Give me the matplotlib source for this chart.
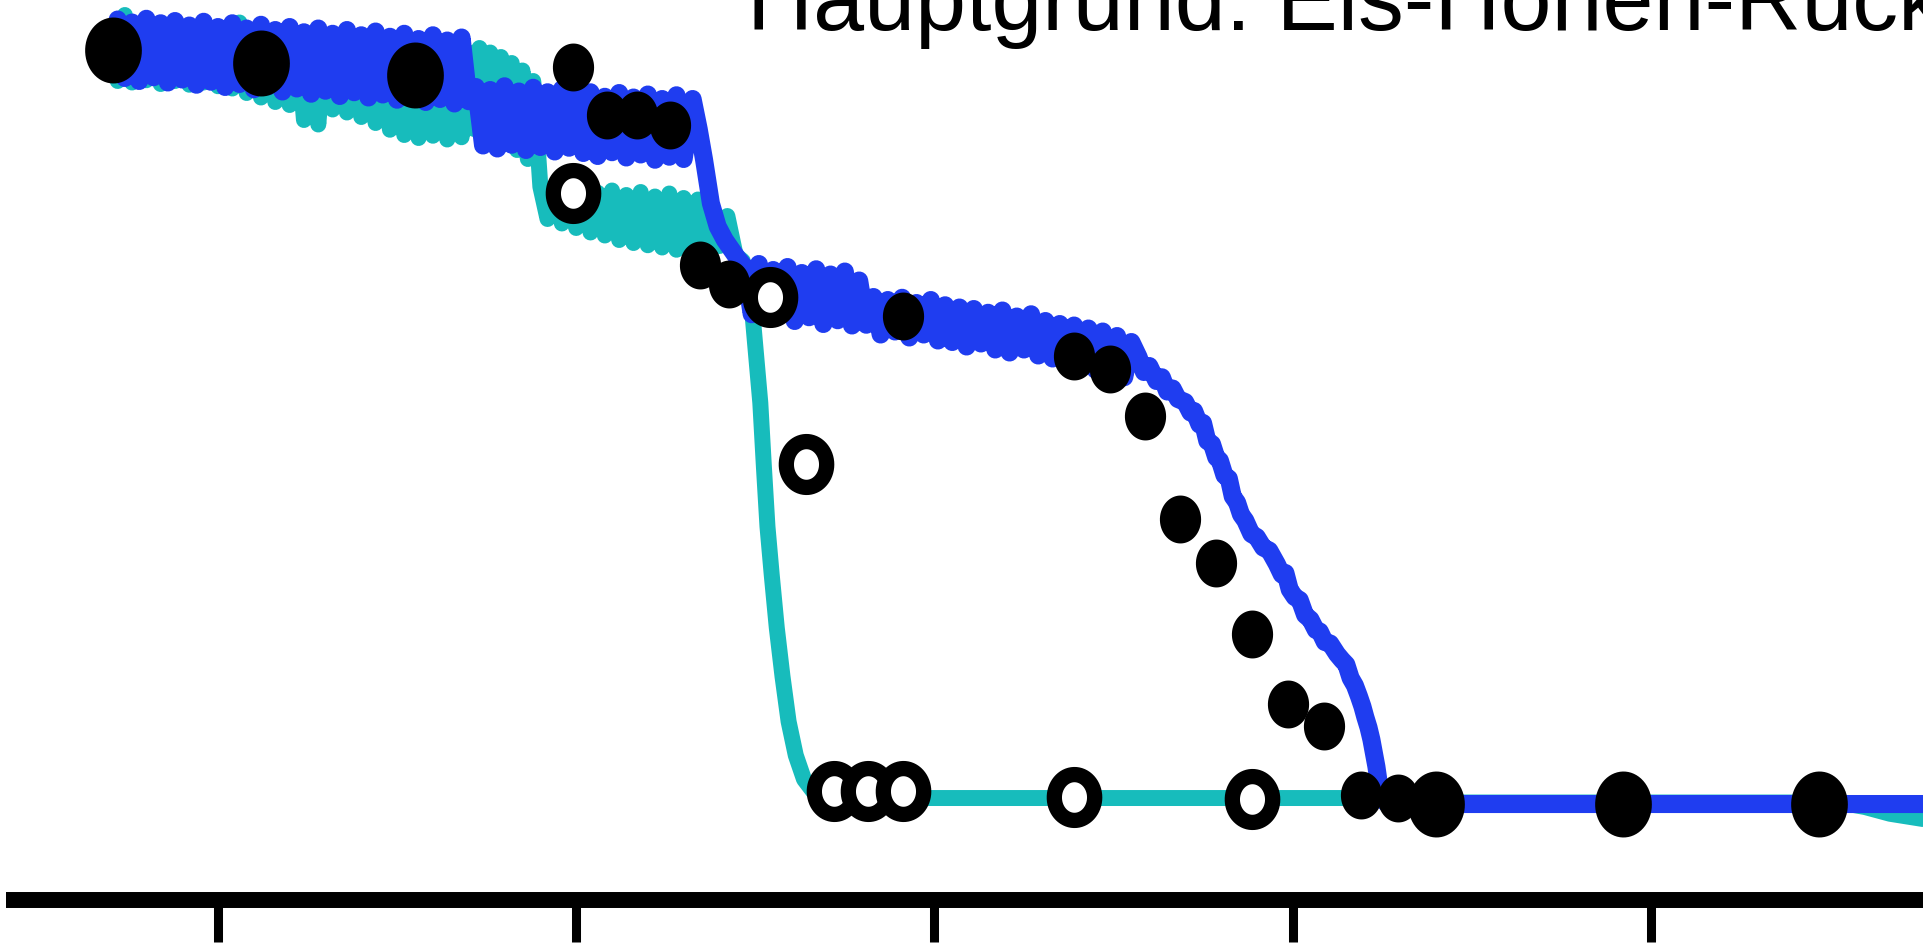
import numpy as np
import matplotlib
matplotlib.use("Agg")
import matplotlib.pyplot as plt
from matplotlib.path import Path


TITLE = "Hauptgrund: Eis-Höhen-Rückkopplung"

# x in arbitrary time units (ticks every 100), y in percent of initial ice
TICKS = [0, 100, 200, 300, 400]

# blue model run: a very noisy series, so the thick line fills a band
blue_x = [
    -30, -28, -26, -24, -22, -20, -18, -16, -14, -12, -10, -8, -6, -4, -2,
    0, 2, 4, 6, 8, 10, 12, 14, 16, 18, 20, 22, 24, 26, 28, 30, 32, 34, 36,
    38, 40, 42, 44, 46, 48, 50, 52, 54, 56, 58, 60, 62, 64, 66, 68, 70,
    72, 74, 76, 78, 80, 82, 84, 86, 88, 90, 92, 94, 96, 98, 100, 102, 104,
    106, 108, 110, 112, 114, 116, 118, 120, 122, 124, 126, 128, 130,
    132.5, 134.2, 135.7, 137.6, 139.5, 141.5, 145.0,
    147, 149, 151, 153, 155, 157, 159, 161, 163, 165, 167, 169, 171, 173,
    175, 177, 179, 181, 183, 185, 187, 189, 191, 193, 195, 197, 199, 201,
    203, 205, 207, 209, 211, 213, 215, 217, 219, 221, 223, 225, 227, 229,
    231, 233, 235, 237, 239, 241, 243, 245, 247, 249, 251, 253, 255,
    257.0, 258.5, 260.0, 262.0, 263.5, 265.0, 266.5, 268.0, 270.0, 271.5,
    272.5, 274.0, 275.0, 276.2, 277.5, 278.7, 279.7, 281.0, 282.2, 283.3,
    284.5, 285.6, 286.8, 288.5, 290.0, 291.8, 293.5, 295.6, 297.0, 298.0,
    299.2, 300.6, 302.0, 303.5, 305.0, 306.5, 307.6, 309.0, 310.5, 312.4,
    313.8, 315.0, 316.2, 317.4, 318.5, 319.5, 320.3, 321.2, 322.0, 322.7,
    323.4, 324.0, 324.8, 326.0, 327.5, 476.0,
]
blue_y = [
    100.5, 104.6, 96.8, 104.2, 96.4, 104.7, 96.9, 104.1, 96.2, 104.4, 96.6,
    103.8, 95.9, 104.3, 96.3, 103.6, 95.6, 104.1, 96.0, 103.4, 95.3, 103.9,
    95.7, 103.2, 95.0, 103.6, 95.4, 102.9, 94.7, 103.4, 95.1, 102.7, 94.4,
    103.2, 94.9, 102.5, 94.2, 103.0, 94.6, 102.3, 93.9, 102.7, 94.3, 102.0,
    93.6, 102.5, 94.0, 101.8, 93.4, 102.2, 93.7,
    95.6, 87.8, 95.2, 87.4, 95.7, 87.9, 95.0, 87.2, 95.5, 87.6, 94.9, 87.0,
    95.3, 87.5, 94.7, 86.8, 94.9, 86.4, 94.3, 86.9, 94.8, 86.2, 94.2, 86.6,
    94.6, 85.9, 94.0, 86.3, 94.5, 86.0,
    94.0, 90.0, 85.9, 80.1, 77.0, 75.2, 72.8,
    71.6, 65.3, 72.0, 64.8, 71.2, 65.2, 71.6, 64.4, 70.8, 64.9, 71.3, 64.0,
    70.6, 64.5, 71.0, 63.8, 69.8, 63.9, 67.6, 62.6, 67.2, 63.0, 67.5, 62.2,
    66.8, 62.6, 67.2, 61.8, 66.5, 61.6, 66.2, 61.0, 66.0, 61.4, 65.5, 60.6,
    65.8, 60.2, 65.0, 60.6, 65.3, 59.8, 64.4, 59.4, 64.0, 59.0, 63.8, 58.5,
    63.4, 57.9, 63.0, 57.4, 62.4, 56.9, 61.6,
    59.6, 57.6, 58.4, 56.4, 56.9, 55.0, 55.4, 54.0, 53.6, 52.2,
    52.4, 50.6, 50.8, 48.4, 48.0, 46.2, 45.8, 43.8, 43.4, 41.0,
    40.2, 38.6, 37.8, 36.0, 35.6, 34.2, 33.8, 32.0, 30.6, 30.8,
    28.6, 27.6, 27.2, 25.2, 24.6, 23.2, 23.0, 21.6, 21.4, 20.0,
    19.2, 18.6, 16.8, 15.8, 14.4, 13.0, 11.6, 10.2, 8.6, 6.8,
    5.0, 3.0, 1.2, 0.2, 0.0, 0.0,
]

# cyan model run
cyan_x = [
    -30, -28, -26, -24, -22, -20, -18, -16, -14, -12, -10, -8, -6, -4, -2,
    0, 2, 4, 6, 8, 10, 12, 14, 16, 18, 20, 22, 24, 26, 28, 30, 32, 34, 36,
    38, 40, 42, 44, 46, 48, 50, 52, 54, 56, 58, 60, 62, 64, 66, 68, 70,
    71.5, 73, 74.5, 76, 77.5, 79, 80.5, 82, 83.5, 85, 86.5, 88,
    90, 92, 94, 96, 98, 100, 102, 104, 106, 108, 110, 112, 114, 116, 118,
    120, 122, 124, 126, 128, 130, 132, 134, 136,
    138.0, 140.0, 142.2, 144.5, 146.5,
    149.0, 150.2, 151.4, 152.4, 153.4, 154.6, 156.0, 157.6, 159.3, 161.3,
    163.6, 166.3, 170.3, 320.0, 330.0, 452.8, 459.8, 466.8, 476.0,
]
cyan_y = [
    100.5, 96.4, 105.2, 96.2, 103.4, 96.5, 103.8, 96.0, 103.2, 96.4, 103.6,
    95.9, 103.0, 96.2, 103.4, 95.7, 103.0, 95.4, 104.2, 94.8, 102.6, 94.2,
    102.9, 93.6, 102.4, 93.2, 102.6, 91.2, 102.0, 90.6, 102.3, 92.6, 101.6,
    92.2, 101.9, 91.6, 101.2, 90.8, 101.5, 89.9, 100.8, 89.2, 101.0, 88.8,
    100.4, 89.1, 100.6, 88.6, 100.0, 88.9, 100.2,
    90.0, 100.8, 89.5, 100.2, 88.8, 99.6, 88.0, 98.8, 87.2, 97.8, 86.0, 96.4,
    82.3, 78.0, 82.0, 77.4, 81.8, 76.8, 82.1, 76.2, 81.5, 75.8, 81.8, 75.2,
    81.2, 74.8, 81.6, 74.5, 81.0, 74.2, 81.4, 73.9, 80.8, 74.0, 80.6, 74.1,
    79.6, 74.4, 78.4, 73.2, 72.4,
    66.5, 60.0, 53.5, 45.0, 37.0, 30.5, 23.5, 17.0, 11.0, 6.5,
    3.3, 1.6, 0.8, 0.8, 0.2, 0.2, -0.4, -1.3, -2.0,
]

# observations (filled) and reconstructions (open)
filled_x = [-29.3, 12.0, 55.0, 99.1, 108.6, 117.0, 126.2, 134.6, 142.8,
            191.2, 239.0, 249.0, 258.8, 268.6, 278.6, 288.7, 298.7, 308.8,
            319.1, 329.4, 340.0, 392.2, 447.0]
filled_y = [100.5, 98.8, 97.2, 98.3, 91.9, 91.9, 90.5, 71.9, 69.3,
            65.1, 59.7, 58.0, 51.7, 38.0, 32.1, 22.7, 13.3, 10.4,
            1.2, 0.8, 0.0, 0.0, 0.0]
filled_big = [True, True, True, False, False, False, False, False, False,
              False, False, False, False, False, False, False, False, False,
              False, False, True, True, True]

open_x = [99.1, 154.1, 164.1, 172.0, 181.5, 191.2, 239.0, 288.7]
open_y = [81.5, 67.6, 45.3, 1.8, 1.8, 1.8, 0.9, 0.7]

BLUE = "#1f3df0"
CYAN = "#17bcbc"


def ellipse_marker(aspect=0.86):
    t = np.linspace(0, 2 * np.pi, 64)
    verts = np.column_stack([0.5 * aspect * np.cos(t), 0.5 * np.sin(t)])
    return Path(verts, closed=True)


def main():
    fig = plt.figure(figsize=(19.23, 9.46), dpi=100)
    ax = fig.add_axes([0, 0, 1, 1])

    ax.plot(cyan_x, cyan_y, color=CYAN, lw=11.5, solid_joinstyle="round",
            solid_capstyle="round", zorder=2)
    ax.plot(blue_x, blue_y, color=BLUE, lw=13, solid_joinstyle="round",
            solid_capstyle="round", zorder=3)

    dot = ellipse_marker(0.86)
    for x, y, big in zip(filled_x, filled_y, filled_big):
        ax.plot(x, y, marker=dot, ms=47.5 if big else 34.5, color="black",
                mew=0, ls="none", zorder=4)

    ring = ellipse_marker(0.88)
    ax.plot(open_x, open_y, marker=ring, ms=33, mfc="white", mec="black",
            mew=11, ls="none", zorder=5)

    ax.set_xlim(-60.86, 476.0)
    ax.set_ylim(-18.93, 107.2)

    for side in ["left", "right", "top"]:
        ax.spines[side].set_visible(False)
    ax.spines["bottom"].set_position(("data", -12.8))
    ax.spines["bottom"].set_linewidth(11.5)
    ax.spines["bottom"].set_bounds(-59.2, 476.0)
    ax.spines["bottom"].set_capstyle("butt")

    ax.set_xticks(TICKS)
    ax.set_xticklabels([])
    ax.set_yticks([])
    ax.tick_params(axis="x", direction="out", length=30, width=6.5, color="black")

    fig.text(0.3885, 1 - 30 / 946, TITLE, fontsize=66,
             family=["Liberation Sans", "DejaVu Sans"], va="baseline", ha="left")

    fig.savefig("out.png", dpi=100, facecolor="white")
    plt.close(fig)


if __name__ == "__main__":
    main()
